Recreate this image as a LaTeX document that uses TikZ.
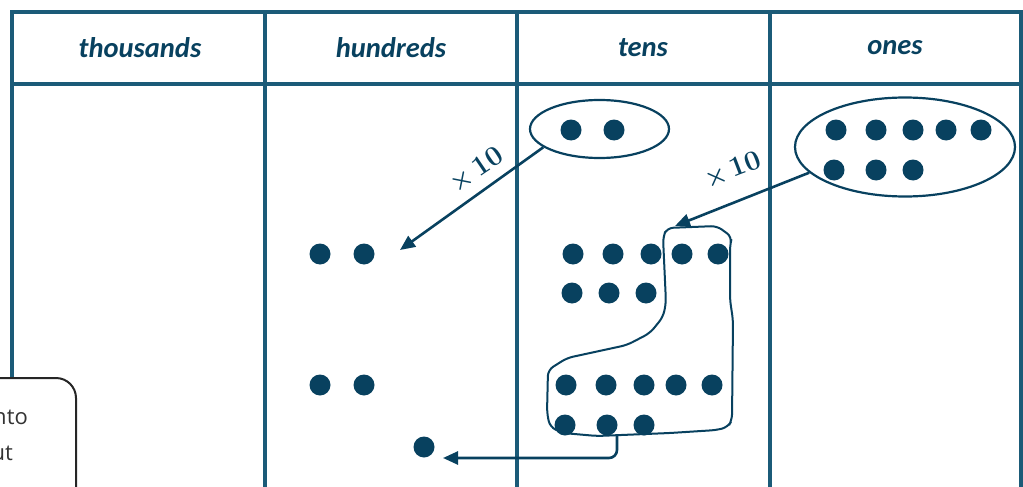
\documentclass[tikz,border=0pt]{standalone}
\usepackage{fontspec}
\newfontfamily\hdr{Carlito}
\newfontfamily\body{Open Sans}
\usetikzlibrary{arrows.meta,shapes.geometric}
\definecolor{tl}{HTML}{1B5B78}
\definecolor{dt}{HTML}{08415F}
\begin{document}
\begin{tikzpicture}[x=1pt,y=-1pt,
  grid/.style={draw=tl,line width=3.2pt},
  hd/.style={font=\hdr\bfseries\itshape\fontsize{28.5}{32}\selectfont,text=dt},
  dot/.style={circle,fill=dt,minimum size=21pt,inner sep=0pt},
  ring/.style={draw=dt,line width=2.2pt},
  arr/.style={draw=dt,line width=2.6pt,-{Triangle[length=15pt,width=13pt]}},
  lbl/.style={font=\boldmath\bfseries\fontsize{28}{30}\selectfont,text=dt}]
\useasboundingbox (0,0) rectangle (1023,487);
\begin{scope}
\clip (0,0) rectangle (1023,487);
% table
\draw[grid] (12,500) -- (12,12) -- (1021,12) -- (1021,500);
\draw[grid] (12,84) -- (1021,84);
\foreach \x in {265,517,770} \draw[grid] (\x,12) -- (\x,500);
\node[hd] (h1) at (140,48) {thousands};
\node[hd] (h2) at (391,48) {hundreds};
\node[hd] (h3) at (643,48) {tens};
\node[hd] (h4) at (895,48) {ones};
% ellipses
\node[ring,ellipse,minimum width=139pt,minimum height=58pt,inner sep=0pt] (e1) at (599.5,129) {};
\node[ring,ellipse,minimum width=220pt,minimum height=99pt,inner sep=0pt] (e2) at (905,147) {};
% dots in tens ellipse
\node[dot] at (571,130) {};
\node[dot] at (614,130) {};
% dots in ones ellipse
\foreach \x in {836,876,913,946,981} \node[dot] at (\x,130) {};
\foreach \x in {834,876,913} \node[dot] at (\x,170) {};
% hundreds dots
\node[dot] (a1) at (320,254) {};
\node[dot] (a2) at (364,254) {};
\node[dot] (b1) at (320,385) {};
\node[dot] (b2) at (364,385) {};
\node[dot] (c1) at (424,447) {};
% tens dots
\foreach \x in {573,613,651,682,718} \node[dot] at (\x,254) {};
\foreach \x in {572,609,646} \node[dot] at (\x,293) {};
\foreach \x in {566,606,644,676,712} \node[dot] at (\x,385) {};
\foreach \x in {565,607,644} \node[dot] at (\x,425) {};
% blob
\draw[ring,line width=2pt,rounded corners=6pt] (663,237) -- (667,228) -- (717,226) -- (732,237) -- (730,245) -- (730,300) -- (733,320) -- (732,420) -- (728,427) -- (717,430) -- (670,433) -- (597,436) -- (563,433) -- (550,427) -- (547,413) -- (548,370) -- (567,358) -- (627,345) -- (650,333) -- (663,317) -- (666,303) -- cycle;
\coordinate (bt) at (617,436);
% arrows
\coordinate (t1) at (400,250);
\coordinate (t2) at (675,226);
\draw[arr] (e1.198) -- (t1);
\draw[arr] (e2.195) -- (t2);
\draw[arr,rounded corners=8pt] (bt) -- (617,458) -- (443,458);
\node[lbl,rotate=34] (x1) at (477,170) {$\times$\,10};
\node[lbl,rotate=21] (x2) at (733,170) {$\times$\,10};
% callout
\draw[draw=black!85,line width=2pt,fill=white,rounded corners=20pt] (-40,520) -- (-40,378) -- (76,378) -- (76,520);
\node[anchor=base east,font=\body\fontsize{22}{26}\selectfont,text=black!80,inner sep=0pt] (n1) at (28,424) {into};
\node[anchor=base east,font=\body\fontsize{22}{26}\selectfont,text=black!80,inner sep=0pt] (n2) at (13,460) {out};
\end{scope}
\end{tikzpicture}
\end{document}
